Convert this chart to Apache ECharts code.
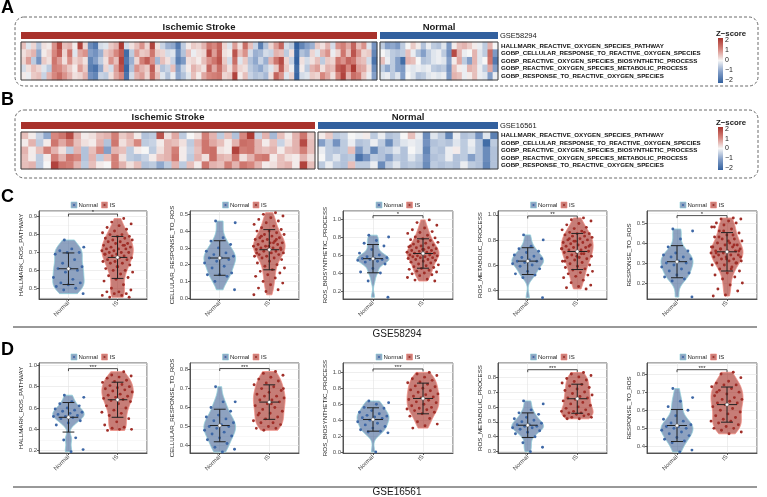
<!DOCTYPE html>
<html>
<head>
<meta charset="utf-8">
<script src="https://cdn.jsdelivr.net/npm/echarts/dist/echarts.min.js"></script>
<style>html,body{margin:0;padding:0;background:#fff}#main{width:767px;height:497px}</style>
</head>
<body>
<div id="main"></div>
<script>
// heatmap row names (gene sets)
var rowNames = ['HALLMARK_REACTIVE_OXYGEN_SPECIES_PATHWAY', 'GOBP_CELLULAR_RESPONSE_TO_REACTIVE_OXYGEN_SPECIES',
  'GOBP_REACTIVE_OXYGEN_SPECIES_BIOSYNTHETIC_PROCESS', 'GOBP_REACTIVE_OXYGEN_SPECIES_METABOLIC_PROCESS',
  'GOBP_RESPONSE_TO_REACTIVE_OXYGEN_SPECIES'];
var groups = ['Normal', 'IS'];
var panelNames = ['HALLMARK_ROS_PATHWAY', 'CELLULAR_RESPONSE_TO_ROS', 'ROS_BIOSYNTHETIC_PROCESS', 'ROS_METABOLIC_PROCESS', 'RESPONSE_TO_ROS'];
var zTicks = [2, 1, 0, -1, -2];

// GSE58294 z-scores: 69 IS samples, 23 normal
var hmA_IS = [
  [0.5,-0.2,0.3,-0.6,0.2,0.1,0.9,1.7,0.5,0.6, 0.1,1.8,0.3,-1.3,-1.6,-0.3,-0.2,0.4,0.6,1.9, -0.3,0.2,0.5,0.9,0.3,1.8,0.2,-0.4,-0.8,-0.9, -1.6,-0.5,0.1,0.4,0.3,0.6,1.2,1.0,1.4,0.3, -0.2,0.8,0.2,1.3,0.5,-0.4,-1.5,-0.6,0.3,0.8, 1.4,-0.3,-0.5,-2.0,-1.4,-1.0,-0.8,0.4,0.2,0.6, -0.3,0.9,1.1,0.7,1.4,0.5,0.9,-0.2,-1.2],
  [0.2,0.4,0.6,-0.9,0.1,0.3,1.0,1.5,0.3,1.2, -0.2,0.7,0.9,-1.0,-1.2,-0.8,0.4,0.6,1.0,1.5, -1.8,-0.5,0.8,0.4,0.5,1.2,0.4,0.3,-0.3,-0.2, -1.3,-0.6,0.5,-0.1,0.2,0.3,1.7,0.8,1.5,0.2, 0.1,1.6,0.5,0.9,-0.3,-0.8,-0.7,-0.3,-0.4,0.6, 0.5,-0.5,0.2,-1.9,-0.6,-0.8,0.3,-0.2,0.6,0.9, -0.1,0.3,1.2,0.5,1.6,0.9,0.3,0.4,-1.4],
  [0.3,0.8,-0.5,-1.2,0.4,0.2,1.2,0.8,0.2,0.9, 0.3,0.5,0.2,-1.4,-1.0,-0.5,0.2,0.9,0.5,1.8, -1.6,-0.8,0.3,1.1,1.5,0.9,-0.7,0.5,0.2,-0.4, -1.5,-1.1,0.2,0.3,0.1,0.5,0.9,1.2,1.6,0.4, -0.3,1.3,-0.2,0.4,-0.6,-0.9,-0.4,-0.8,0.6,1.2, 1.7,0.3,-0.4,-2.0,0.2,-0.3,0.2,0.5,-0.5,0.4, 0.3,1.2,0.9,1.4,1.2,0.6,0.5,-0.3,-1.7],
  [-0.3,0.2,0.5,0.3,-0.2,-0.5,1.1,1.0,0.7,0.4, 0.1,0.8,0.4,-1.5,-1.7,-0.9,0.3,-0.3,0.8,1.6, -1.9,-0.6,0.9,0.6,0.4,1.5,0.3,-0.6,-0.4,0.5, -1.0,-0.4,0.1,0.6,0.4,0.2,1.4,0.7,1.3,0.6, 0.2,0.9,0.3,0.2,-0.5,-0.7,-0.9,-0.5,-0.2,0.4, 1.5,0.4,-0.1,-1.8,0.1,-0.5,0.6,0.8,0.2,0.6, 0.5,1.5,1.7,1.0,1.9,0.8,0.7,0.2,-1.3],
  [0.1,-0.1,0.4,0.5,-0.4,0.6,1.0,1.3,0.9,0.6, 0.2,0.3,0.6,-1.2,-1.4,-0.4,-0.5,0.2,0.7,1.0, -1.7,-0.3,0.6,0.8,0.3,1.3,0.5,-0.2,-0.6,-0.1, -0.9,-0.6,-0.2,0.5,0.1,0.7,1.0,1.1,1.2,0.3, 0.4,1.8,0.1,0.5,-0.4,-0.6,-0.5,-0.7,0.2,1.4, 0.9,-0.2,0.3,-1.9,-0.3,-0.2,0.4,0.3,1.0,0.7, 0.2,1.0,1.8,0.6,1.3,1.1,0.4,-0.1,-1.0]
];
var hmA_N = [
  [-0.5,-1.0,-0.9,-1.1,-0.5,0.0,0.4,0.1,-0.6,-0.1,-0.5,-0.6,-0.2,-1.1,0.1,0.5,0.6,0.4,0.1,-0.1,-0.5,0.6,0.0],
  [0.0,-0.2,-0.5,-0.6,-0.5,0.5,-0.1,-0.6,-1.0,-0.5,-0.2,-0.1,-0.5,-1.2,1.7,0.6,-0.1,0.0,0.6,-0.2,-0.5,1.3,-1.1],
  [0.5,-0.1,-0.5,-1.0,-1.8,0.6,0.5,0.0,-0.6,-0.5,-0.2,-0.1,-0.2,-1.0,0.1,0.7,-0.5,-1.0,0.6,-0.2,0.0,1.2,-1.6],
  [-0.5,-0.9,-0.5,-1.0,-1.1,-0.1,-0.2,-0.1,-0.2,-0.1,-0.5,-0.6,-0.5,-1.2,0.5,0.1,-0.1,0.6,0.5,-0.1,-0.5,0.7,-1.0],
  [-0.2,-0.1,-0.5,-0.2,-1.0,0.0,-0.2,-0.6,-0.5,-0.2,-0.1,-0.2,-0.1,-1.1,0.6,0.5,-0.1,0.1,0.5,-0.1,-0.2,-1.0,-0.1]
];
// GSE16561 z-scores: 39 IS samples, 24 normal
var hmB_IS = [
  [0.5,0.1,-0.4,-0.9,1.0,1.2,1.7,0.6,0.1,0.2, 0.5,0.6,1.1,0.4,0.6,0.1,-0.6,-0.5,1.6,0.2, 0.7,-0.5,0.0,0.2,1.1,0.6,-0.5,0.5,-0.6,1.0, 1.9,-0.4,0.6,-0.7,0.5,0.1,0.6,1.2,0.4],
  [0.1,0.6,-0.5,0.1,1.2,0.7,1.1,0.5,0.2,0.1, 0.6,-0.6,1.2,0.2,0.5,1.0,-0.5,-0.4,0.1,0.6, 0.5,0.2,-0.5,0.6,1.2,0.7,0.5,0.1,0.6,1.3, 1.2,0.6,0.1,0.5,-0.4,0.2,0.6,1.7,0.5],
  [0.6,0.1,0.5,1.1,0.6,0.2,-0.5,0.6,-0.6,0.5, 1.0,-1.0,0.6,0.5,-0.5,0.1,0.0,-0.5,0.2,0.6, 1.1,0.1,-0.4,0.5,1.2,1.3,0.2,0.1,1.8,1.1, 1.2,0.6,0.5,0.6,0.1,0.5,0.6,1.1,0.5],
  [0.5,0.1,-0.5,0.1,1.1,0.6,1.2,1.0,-0.6,0.6, -0.5,0.5,1.1,0.2,-0.5,-0.6,-0.4,0.1,0.5,0.6, 1.2,0.1,-0.5,0.6,0.2,1.3,0.6,0.5,1.2,0.2, 0.6,1.1,1.2,0.1,0.5,0.2,0.1,0.6,0.2],
  [0.5,0.6,-0.5,0.0,1.8,1.2,1.1,0.6,-0.5,0.5, 0.1,0.0,1.1,0.6,0.2,0.5,-0.6,-0.5,-0.9,-0.5, 0.6,-0.5,0.5,0.1,1.2,0.6,0.5,1.1,0.6,1.2, 1.0,0.6,0.1,0.2,0.5,0.6,0.1,1.8,0.5]
];
var hmB_N = [
  [0.1,0.4,-0.5,-0.4,0.0,-0.1,0.1,-0.5,-0.1,-0.6,-0.5,0.0,0.5,-0.1,-1.3,-0.2,-0.5,-1.4,-0.1,-0.6,-0.5,-1.2,-0.2,-1.5],
  [-1.0,-0.5,-1.2,-0.5,-0.1,-0.6,-0.5,-0.1,-0.5,-1.3,-0.5,-0.2,-0.1,-0.2,-1.2,-0.6,-0.5,-0.6,-0.2,-0.5,-0.1,-0.6,-1.8,-0.5],
  [-0.1,-0.5,-0.6,-0.5,0.5,-1.1,-0.5,-1.4,-0.6,-0.5,-0.2,-0.6,0.0,-0.2,-1.4,-0.5,-0.6,-0.1,0.1,-0.5,-0.2,-0.6,-1.3,-0.6],
  [0.0,-0.5,-0.2,-0.6,-0.5,-1.7,-1.2,-0.5,-0.6,-1.0,-0.5,-0.6,-0.2,-0.5,-1.2,-0.6,-0.5,-0.1,-0.6,-0.5,-1.0,-0.6,-1.3,-0.6],
  [-0.5,-0.1,-0.5,-0.6,0.5,-0.5,-0.5,-0.1,-1.3,-0.5,-0.2,-0.6,-0.5,-0.6,-1.3,-0.5,-0.6,-0.5,-0.6,-0.1,-0.5,-0.6,-1.4,-0.6]
];

// GSE58294 ssGSEA scores per panel
var c1N = [0.77,0.73,0.72,0.71,0.70,0.70,0.69,0.66,0.64,0.62,0.61,0.61,0.60,0.59,0.56,0.55,0.53,0.53,0.52,0.51,0.50,0.49,0.47];
var c1IS = [0.89,0.87,0.86,0.85,0.84,0.83,0.82,0.81,0.80,0.80,0.79,0.79,0.78,0.78,0.77,0.77,0.76,0.76,0.75,0.75,
  0.74,0.74,0.73,0.73,0.72,0.72,0.72,0.71,0.71,0.70,0.70,0.70,0.69,0.69,0.68,0.68,0.67,0.67,0.66,0.66,
  0.65,0.65,0.64,0.64,0.63,0.62,0.61,0.60,0.60,0.59,0.58,0.57,0.56,0.55,0.54,0.52,0.50,0.49,0.48,0.48,
  0.47,0.47,0.46,0.46,0.45,0.45,0.62,0.69,0.74];
var c2N = [0.46,0.45,0.36,0.34,0.32,0.30,0.28,0.27,0.26,0.25,0.24,0.24,0.23,0.22,0.21,0.19,0.18,0.15,0.14,0.14,0.13,0.10,0.05];
var c2IS = [0.51,0.50,0.49,0.48,0.47,0.46,0.45,0.44,0.43,0.42,0.41,0.40,0.40,0.39,0.38,0.38,0.37,0.36,0.36,0.35,
  0.35,0.34,0.34,0.33,0.33,0.32,0.32,0.31,0.31,0.30,0.30,0.30,0.29,0.29,0.28,0.28,0.27,0.27,0.26,0.26,
  0.25,0.25,0.24,0.24,0.23,0.22,0.21,0.20,0.19,0.18,0.17,0.16,0.15,0.14,0.13,0.12,0.10,0.09,0.08,0.06,
  0.05,0.04,0.02,0.33,0.37,0.29,0.31,0.27,0.35];
var c3N = [0.82,0.80,0.76,0.73,0.70,0.66,0.62,0.60,0.58,0.57,0.56,0.56,0.55,0.55,0.54,0.53,0.52,0.50,0.45,0.41,0.40,0.31,0.13];
var c3IS = [0.99,0.96,0.93,0.90,0.88,0.86,0.85,0.84,0.82,0.80,0.79,0.78,0.77,0.76,0.75,0.74,0.73,0.72,0.71,0.70,
  0.69,0.68,0.68,0.67,0.66,0.65,0.65,0.64,0.63,0.63,0.62,0.62,0.61,0.60,0.60,0.59,0.59,0.58,0.58,0.57,
  0.57,0.56,0.55,0.55,0.54,0.53,0.52,0.51,0.50,0.49,0.48,0.47,0.46,0.45,0.44,0.43,0.42,0.41,0.40,0.39,
  0.38,0.37,0.35,0.33,0.32,0.31,0.66,0.70,0.61];
var c4N = [0.84,0.80,0.75,0.73,0.71,0.70,0.68,0.67,0.66,0.65,0.64,0.63,0.63,0.62,0.61,0.60,0.59,0.57,0.55,0.53,0.52,0.50,0.34];
var c4IS = [0.975,0.96,0.95,0.93,0.92,0.90,0.89,0.88,0.87,0.86,0.85,0.85,0.84,0.83,0.83,0.82,0.81,0.80,0.80,0.79,
  0.78,0.78,0.77,0.76,0.76,0.75,0.74,0.74,0.73,0.72,0.72,0.71,0.70,0.70,0.69,0.68,0.67,0.66,0.66,0.65,
  0.64,0.63,0.62,0.61,0.60,0.59,0.58,0.57,0.56,0.55,0.54,0.53,0.52,0.51,0.50,0.48,0.46,0.44,0.43,0.42,
  0.41,0.79,0.73,0.69,0.81,0.75,0.67,0.63,0.86];
var c5N = [0.47,0.46,0.42,0.38,0.36,0.35,0.34,0.33,0.33,0.32,0.31,0.30,0.30,0.29,0.28,0.27,0.26,0.25,0.24,0.23,0.22,0.21,0.13];
var c5IS = [0.525,0.52,0.52,0.51,0.50,0.50,0.49,0.48,0.47,0.46,0.45,0.44,0.43,0.42,0.42,0.41,0.40,0.40,0.39,0.39,
  0.38,0.38,0.37,0.37,0.36,0.36,0.36,0.35,0.35,0.34,0.34,0.34,0.33,0.33,0.32,0.32,0.31,0.31,0.30,0.30,
  0.29,0.29,0.28,0.27,0.26,0.25,0.24,0.23,0.22,0.20,0.19,0.17,0.16,0.14,0.135,0.44,0.37,0.33,0.41,0.35,
  0.30,0.46,0.38,0.27,0.43,0.36,0.32,0.48,0.39];

// GSE16561 ssGSEA scores per panel
var d1N = [0.72,0.70,0.66,0.64,0.62,0.60,0.59,0.58,0.57,0.56,0.55,0.54,0.53,0.52,0.52,0.51,0.50,0.48,0.46,0.44,0.32,0.30,0.21,0.19];
var d1IS = [0.94,0.91,0.90,0.89,0.88,0.86,0.85,0.84,0.82,0.81,0.80,0.79,0.78,0.77,0.76,0.75,0.73,0.72,0.71,0.70,
  0.69,0.68,0.67,0.66,0.64,0.62,0.60,0.58,0.56,0.55,0.53,0.50,0.47,0.44,0.42,0.41,0.40,0.40,0.39];
var d2N = [0.71,0.63,0.63,0.60,0.58,0.56,0.55,0.54,0.53,0.52,0.51,0.50,0.50,0.49,0.48,0.47,0.46,0.45,0.44,0.43,0.41,0.39,0.38,0.365];
var d2IS = [0.79,0.78,0.77,0.76,0.75,0.74,0.73,0.72,0.71,0.70,0.69,0.68,0.67,0.66,0.66,0.65,0.64,0.64,0.63,0.62,
  0.61,0.60,0.59,0.58,0.57,0.56,0.55,0.54,0.53,0.52,0.52,0.51,0.50,0.49,0.49,0.48,0.70,0.62,0.57];
var d3N = [0.64,0.62,0.60,0.56,0.55,0.52,0.50,0.48,0.46,0.45,0.44,0.43,0.42,0.40,0.38,0.36,0.34,0.32,0.30,0.28,0.26,0.25,0.24,0.00];
var d3IS = [1.00,0.98,0.96,0.94,0.92,0.90,0.88,0.87,0.85,0.83,0.82,0.80,0.78,0.77,0.75,0.73,0.72,0.70,0.69,0.68,
  0.66,0.65,0.63,0.62,0.60,0.58,0.56,0.55,0.54,0.53,0.52,0.50,0.48,0.45,0.42,0.38,0.35,0.33,0.30];
var d4N = [0.64,0.62,0.58,0.56,0.55,0.53,0.52,0.51,0.50,0.49,0.48,0.48,0.47,0.47,0.46,0.46,0.45,0.44,0.43,0.42,0.40,0.36,0.33,0.30];
var d4IS = [0.83,0.82,0.81,0.80,0.79,0.78,0.77,0.76,0.75,0.74,0.73,0.72,0.71,0.70,0.69,0.68,0.67,0.66,0.66,0.65,
  0.64,0.63,0.62,0.61,0.60,0.59,0.58,0.57,0.57,0.56,0.56,0.55,0.55,0.54,0.54,0.53,0.53,0.52,0.52];
var d5N = [0.72,0.67,0.65,0.62,0.60,0.57,0.55,0.54,0.53,0.52,0.51,0.51,0.50,0.50,0.49,0.48,0.47,0.46,0.45,0.44,0.43,0.42,0.38,0.37];
var d5IS = [0.81,0.80,0.78,0.76,0.75,0.74,0.74,0.73,0.72,0.71,0.70,0.69,0.68,0.67,0.66,0.66,0.65,0.64,0.64,0.63,
  0.62,0.61,0.60,0.59,0.58,0.57,0.56,0.55,0.54,0.54,0.53,0.52,0.51,0.50,0.50,0.49,0.48,0.47,0.70];

// significance labels and bracket heights
var sigC = ['*', '', '*', '**', '*'];
var sigD = ['***', '***', '***', '***', '***'];
var bracketC = [0.915, null, 1.037, 0.99, 0.537];
var bracketD = [0.969, 0.806, 1.043, 0.849, 0.824];
// y axis ranges [min, max, tick step]
var rangeC = [[0.44, 0.932, 0.1], [-0.005, 0.52, 0.1], [0.11, 1.089, 0.2], [0.33, 1.03, 0.2], [0.12, 0.56, 0.1]];
var rangeD = [[0.178, 1.022, 0.2], [0.36, 0.835, 0.1], [-0.013, 1.118, 0.2], [0.291, 0.894, 0.1], [0.364, 0.861, 0.1]];

var FONT = '"Liberation Sans", Arial, sans-serif';
var RED = '#A8322C', BLUE = '#32609E';
var heatCols = [BLUE, '#849FC8', '#F6F6F6', '#D7877F', RED];
var vFill = ['rgba(50,85,140,0.55)', 'rgba(165,45,35,0.62)'];
var vStroke = ['#8FD0DA', '#F28B82'];
var ptCol = ['#3D67A6', '#A02E28'];

var grids = [], xAxes = [], yAxes = [], series = [], graphics = [];

function txt(text, x, y, size, opts) {
  opts = opts || {};
  graphics.push({
    type: 'text', z: 100,
    style: {
      text: text, x: x, y: y, fontSize: size, fontFamily: FONT,
      fontWeight: opts.bold ? 'bold' : 'normal', fill: opts.color || '#1a1a1a',
      align: opts.align || 'left', verticalAlign: 'middle'
    }
  });
}

function addHeat(left, top, width, height, mat, labels) {
  var gi = grids.length;
  grids.push({left: left, top: top, width: width, height: height, show: false});
  var cols = mat[0].map(function (v, i) { return 'S' + i; });
  xAxes.push({type: 'category', gridIndex: gi, data: cols, show: false});
  yAxes.push({
    type: 'category', gridIndex: gi, data: rowNames, inverse: true, position: 'right', show: labels,
    axisLine: {show: false}, axisTick: {show: false}, splitLine: {show: false},
    axisLabel: {interval: 0, margin: 3, fontSize: 6.2, fontWeight: 'bold', color: '#111', fontFamily: FONT}
  });
  var data = [];
  mat.forEach(function (row, r) { row.forEach(function (v, c) { data.push([c, r, v]); }); });
  series.push({type: 'heatmap', xAxisIndex: gi, yAxisIndex: gi, data: data, silent: true,
    itemStyle: {borderWidth: 0}, emphasis: {disabled: true}});
  graphics.push({type: 'rect', z: 100, shape: {x: left, y: top, width: width, height: height},
    style: {fill: 'none', stroke: '#3a3a3a', lineWidth: 1}});
}

function addHeatBlock(top, barTop, isW, nLeft, nW, height, isMat, nMat, gse) {
  addHeat(21, top, isW, height, isMat, false);
  addHeat(nLeft, top, nW, height, nMat, true);
  graphics.push({type: 'rect', shape: {x: 21, y: barTop, width: isW, height: 7}, style: {fill: RED}});
  graphics.push({type: 'rect', shape: {x: nLeft, y: barTop, width: nW, height: 7}, style: {fill: BLUE}});
  txt('Ischemic Stroke', 21 + isW / 2, barTop - 4.5, 9.5, {bold: true, align: 'center'});
  txt('Normal', nLeft + nW / 2, barTop - 4.5, 9.5, {bold: true, align: 'center'});
  txt(gse, 500, barTop + 3.5, 7.5, {});
}

function addColorbar(top, bottom) {
  var mid = (top + bottom) / 2, step = (bottom - top) / 4.5;
  txt('Z\u2212score', 716, top - 4.5, 7.8, {bold: true});
  graphics.push({type: 'rect', shape: {x: 718, y: top, width: 5, height: bottom - top}, style: {
    fill: new echarts.graphic.LinearGradient(0, 0, 0, 1, heatCols.slice().reverse().map(function (c, i) {
      return {offset: i / (heatCols.length - 1), color: c};
    }))
  }});
  zTicks.forEach(function (t) {
    txt(t < 0 ? '\u2212' + Math.abs(t) : String(t), 725, mid - t * step, 7, {});
  });
}

function kde(vals) {
  var n = vals.length;
  var mean = vals.reduce(function (a, b) { return a + b; }, 0) / n;
  var sd = Math.sqrt(vals.reduce(function (a, b) { return a + (b - mean) * (b - mean); }, 0) / (n - 1));
  var s = vals.slice().sort(function (a, b) { return a - b; });
  var q = function (p) { var h = (n - 1) * p, lo = Math.floor(h); return s[lo] + (h - lo) * (s[Math.min(lo + 1, n - 1)] - s[lo]); };
  var bw = 0.9 * Math.min(sd, (q(0.75) - q(0.25)) / 1.34) * Math.pow(n, -0.2);
  var ys = [], ds = [], mx = 0;
  for (var k = 0; k <= 80; k++) {
    var y = s[0] + (s[n - 1] - s[0]) * k / 80, d = 0;
    for (var i = 0; i < n; i++) { var z = (y - s[i]) / bw; d += Math.exp(-0.5 * z * z); }
    ys.push(y); ds.push(d); if (d > mx) mx = d;
  }
  return {ys: ys, ds: ds, max: mx, mean: mean, sd: sd};
}

function jit(i) { return ((i * 0.6180339887 + 0.37) % 1) - 0.5; }

function addViolin(left, top, width, height, name, nData, isData, rng, bracketY, sig) {
  var gi = grids.length;
  grids.push({left: left, top: top, width: width, height: height, show: true, borderColor: '#333', borderWidth: 0.8});
  xAxes.push({
    type: 'value', gridIndex: gi, min: 0.4, max: 2.6, minInterval: 1, maxInterval: 1,
    axisLine: {show: true, onZero: false, lineStyle: {color: '#333', width: 0.8}},
    axisTick: {show: true, length: 2, lineStyle: {color: '#333', width: 0.8}},
    axisLabel: {rotate: 45, fontSize: 6, color: '#4d4d4d', margin: 3, fontFamily: FONT, showMinLabel: false, showMaxLabel: false,
      formatter: function (v) { return v === 1 ? groups[0] : (v === 2 ? groups[1] : ''); }},
    splitLine: {show: true, lineStyle: {color: '#e2e2e2', width: 0.6}}
  });
  yAxes.push({
    type: 'value', gridIndex: gi, min: rng[0], max: rng[1], minInterval: rng[2], maxInterval: rng[2],
    name: name, nameLocation: 'middle', nameGap: 15, nameRotate: 90,
    nameTextStyle: {fontSize: 6.2, color: '#222', fontFamily: FONT},
    axisLine: {show: true, onZero: false, lineStyle: {color: '#333', width: 0.8}},
    axisTick: {show: true, length: 2, lineStyle: {color: '#333', width: 0.8}},
    axisLabel: {fontSize: 6, color: '#4d4d4d', margin: 2, fontFamily: FONT, showMinLabel: false, showMaxLabel: false,
      formatter: function (v) { return v.toFixed(1); }},
    splitLine: {show: true, lineStyle: {color: '#e2e2e2', width: 0.6}},
    minorTick: {show: false, splitNumber: 2},
    minorSplitLine: {show: true, lineStyle: {color: '#f1f1f1', width: 0.5}}
  });
  var sets = [nData, isData];
  var dens = sets.map(kde);
  series.push({
    type: 'custom', xAxisIndex: gi, yAxisIndex: gi, silent: true, z: 2,
    data: [[1, dens[0].mean], [2, dens[1].mean]], encode: {x: 0, y: 1},
    renderItem: function (params, api) {
      var g = params.dataIndex, d = dens[g];
      var hw = api.size([1, 0])[0] * 0.32;
      var xc = api.coord([g + 1, d.mean])[0];
      var r = [], l = [];
      for (var k = 0; k < d.ys.length; k++) {
        var y = api.coord([g + 1, d.ys[k]])[1], w = d.ds[k] / d.max * hw;
        r.push([xc + w, y]); l.unshift([xc - w, y]);
      }
      return {type: 'polygon', shape: {points: r.concat(l)}, style: {fill: vFill[g], stroke: vStroke[g], lineWidth: 0.8}};
    }
  });
  var pts = [];
  sets.forEach(function (arr, g) { arr.forEach(function (v, i) { pts.push([g + 1, v, i + g * 7]); }); });
  series.push({
    type: 'custom', xAxisIndex: gi, yAxisIndex: gi, silent: true, z: 3, data: pts, encode: {x: 0, y: 1},
    renderItem: function (params, api) {
      var g = api.value(0);
      var c = api.coord([g, api.value(1)]);
      var band = api.size([1, 0])[0];
      return {type: 'circle', shape: {cx: c[0] + jit(api.value(2)) * band * 0.64, cy: c[1], r: 1.45},
        style: {fill: ptCol[g - 1]}};
    }
  });
  series.push({
    type: 'custom', xAxisIndex: gi, yAxisIndex: gi, silent: true, z: 4,
    data: [[1, dens[0].mean, dens[0].sd], [2, dens[1].mean, dens[1].sd]], encode: {x: 0, y: 1},
    renderItem: function (params, api) {
      var x = api.value(0), m = api.value(1), s = api.value(2);
      var band = api.size([1, 0])[0];
      var c = api.coord([x, m]), hi = api.coord([x, m + s]), lo = api.coord([x, m - s]);
      var ls = {stroke: '#222', lineWidth: 1};
      var cap = band * 0.12, bar = band * 0.2;
      return {type: 'group', children: [
        {type: 'line', shape: {x1: c[0], y1: hi[1], x2: c[0], y2: lo[1]}, style: ls},
        {type: 'line', shape: {x1: c[0] - cap, y1: hi[1], x2: c[0] + cap, y2: hi[1]}, style: ls},
        {type: 'line', shape: {x1: c[0] - cap, y1: lo[1], x2: c[0] + cap, y2: lo[1]}, style: ls},
        {type: 'line', shape: {x1: c[0] - bar, y1: c[1], x2: c[0] + bar, y2: c[1]}, style: ls},
        {type: 'circle', shape: {cx: c[0], cy: c[1], r: 1.7}, style: {fill: '#fff', stroke: '#555', lineWidth: 0.5}}
      ]};
    }
  });
  if (sig) {
    series.push({
      type: 'custom', xAxisIndex: gi, yAxisIndex: gi, silent: true, z: 5,
      data: [[1, bracketY]], encode: {x: 0, y: 1},
      renderItem: function (params, api) {
        var a = api.coord([1, api.value(1)]), b = api.coord([2, api.value(1)]);
        return {type: 'group', children: [
          {type: 'polyline', shape: {points: [[a[0], a[1] + 2.5], [a[0], a[1]], [b[0], a[1]], [b[0], a[1] + 2.5]]},
            style: {stroke: '#222', lineWidth: 0.8, fill: 'none'}},
          {type: 'text', style: {text: sig, x: (a[0] + b[0]) / 2, y: a[1] + 1.5, align: 'center', verticalAlign: 'bottom',
            fontSize: 6, fontFamily: FONT, fill: '#222'}}
        ]};
      }
    });
  }
  // legend keys above the panel
  var cx = left + width / 2, cy = top - 6;
  [[cx - 22, 0], [cx + 8.5, 1]].forEach(function (k) {
    graphics.push({type: 'rect', shape: {x: k[0], y: cy - 3, width: 6, height: 6}, style: {fill: vFill[k[1]], stroke: vStroke[k[1]], lineWidth: 0.6}});
    graphics.push({type: 'circle', shape: {cx: k[0] + 3, cy: cy, r: 1.1}, style: {fill: ptCol[k[1]]}});
  });
  txt(groups[0], cx - 14.5, cy, 6, {color: '#222'});
  txt(groups[1], cx + 16.5, cy, 6, {color: '#222'});
}

// A / B heatmaps
addHeatBlock(42, 32, 356, 380, 118, 38, hmA_IS, hmA_N, 'GSE58294');
addHeatBlock(132, 122, 294, 318, 180, 37, hmB_IS, hmB_N, 'GSE16561');
addColorbar(38, 83);
addColorbar(127, 170);
graphics.push({type: 'rect', shape: {x: 15, y: 17, width: 743, height: 69, r: 9}, style: {fill: 'none', stroke: '#444', lineWidth: 0.8, lineDash: [3, 2]}});
graphics.push({type: 'rect', shape: {x: 15, y: 110, width: 743, height: 68, r: 9}, style: {fill: 'none', stroke: '#444', lineWidth: 0.8, lineDash: [3, 2]}});

// C / D violins
var lefts = [39, 190, 343, 498, 647], widths = [108, 109, 110, 109, 110];
var cSets = [[c1N, c1IS], [c2N, c2IS], [c3N, c3IS], [c4N, c4IS], [c5N, c5IS]];
var dSets = [[d1N, d1IS], [d2N, d2IS], [d3N, d3IS], [d4N, d4IS], [d5N, d5IS]];
for (var p = 0; p < 5; p++) {
  addViolin(lefts[p], 211, widths[p], 88, panelNames[p], cSets[p][0], cSets[p][1], rangeC[p], bracketC[p], sigC[p]);
  addViolin(lefts[p], 363, widths[p], 90, panelNames[p], dSets[p][0], dSets[p][1], rangeD[p], bracketD[p], sigD[p]);
}
graphics.push({type: 'line', shape: {x1: 13, y1: 327, x2: 757, y2: 327}, style: {stroke: '#333', lineWidth: 1}});
graphics.push({type: 'line', shape: {x1: 13, y1: 487, x2: 757, y2: 487}, style: {stroke: '#333', lineWidth: 1}});
txt('GSE58294', 397, 334.5, 10, {align: 'center'});
txt('GSE16561', 397, 492, 10, {align: 'center'});

// panel letters
txt('A', 1, 8.5, 18, {bold: true, color: '#000'});
txt('B', 1, 100.5, 18, {bold: true, color: '#000'});
txt('C', 1, 197.5, 18, {bold: true, color: '#000'});
txt('D', 1, 350.5, 18, {bold: true, color: '#000'});

var chart = echarts.init(document.getElementById('main'));
chart.setOption({
  animation: false,
  textStyle: {fontFamily: FONT},
  grid: grids,
  xAxis: xAxes,
  yAxis: yAxes,
  visualMap: {type: 'continuous', min: -2, max: 2, show: false, seriesIndex: [0, 1, 2, 3],
    inRange: {color: heatCols}},
  series: series,
  graphic: {elements: graphics}
});
</script>
</body>
</html>
